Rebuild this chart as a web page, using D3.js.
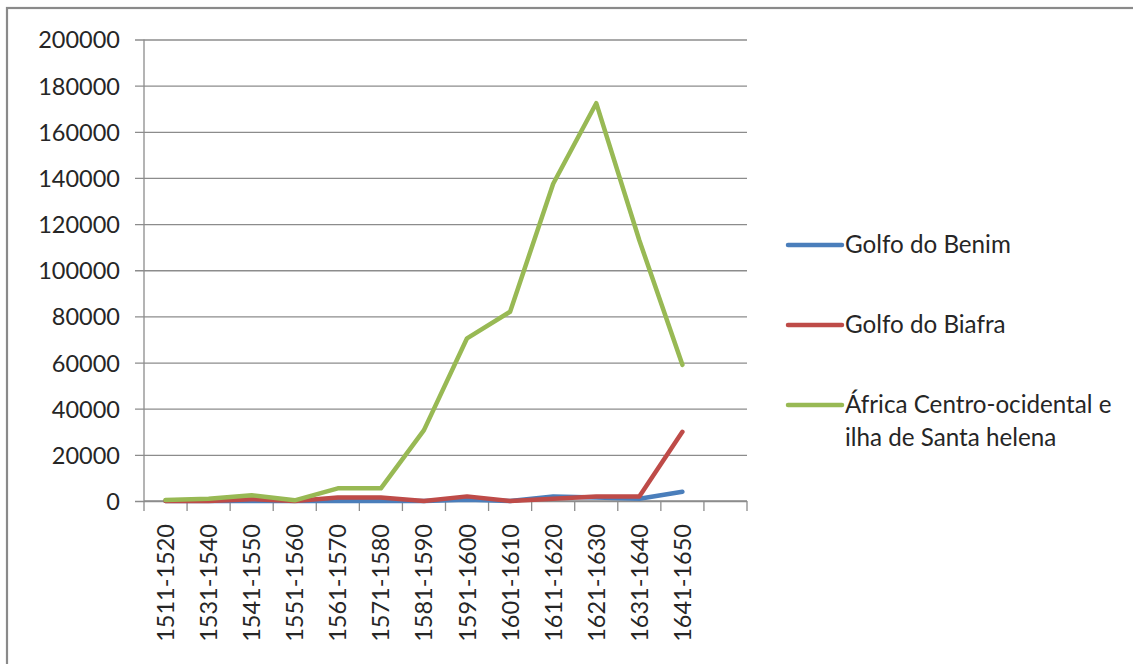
<!DOCTYPE html>
<html>
<head>
<meta charset="utf-8">
<script src="https://cdn.jsdelivr.net/npm/d3@7"></script>
<style>
  html, body { margin: 0; padding: 0; background: #fff; }
  svg { display: block; }
  text { font-family: Lato, "Open Sans", sans-serif; fill: #262626; }
</style>
</head>
<body>
<svg id="chart" width="1133" height="664"></svg>
<script>
// Periods (the last slot of the category axis is left empty)
const periods = ["1511-1520", "1531-1540", "1541-1550", "1551-1560", "1561-1570",
  "1571-1580", "1581-1590", "1591-1600", "1601-1610", "1611-1620",
  "1621-1630", "1631-1640", "1641-1650", ""];

const seriesNames = ["Golfo do Benim", "Golfo do Biafra", "África Centro-ocidental e ilha de Santa helena"];
const seriesColors = ["#4a7ebb", "#be4b48", "#98b954"];

const benim  = [0, 0, 0, 0, 0, 0, 0, 500, 0, 2000, 1500, 1000, 4000];
const biafra = [0, 0, 800, 0, 1500, 1500, 0, 2000, 0, 1000, 2000, 2000, 30000];
const africa = [400, 1000, 2500, 300, 5500, 5500, 30700, 70500, 82000, 137500, 172400, 113000, 59000];

const yTicks = [0, 20000, 40000, 60000, 80000, 100000, 120000, 140000, 160000, 180000, 200000];

const svg = d3.select("#chart");

// outer frame of the chart object
svg.append("rect").attr("x", 7).attr("y", 8).attr("width", 1140).attr("height", 680)
  .attr("fill", "#fff").attr("stroke", "#8a8a8a").attr("stroke-width", 2.2);

const plotLeft = 144, plotRight = 747, plotTop = 39.5, plotBottom = 501;

const x = d3.scaleBand().domain(periods.map((p, i) => i)).range([plotLeft, plotRight]);
const y = d3.scaleLinear().domain([0, 200000]).range([plotBottom, plotTop]);

const gridColor = "#8c8c8c";

// horizontal gridlines with outward tick stubs
const yAxis = d3.axisLeft(y).tickValues(yTicks).tickFormat(d3.format("d"))
  .tickSize(-(plotRight - plotLeft)).tickPadding(16);
const gy = svg.append("g").attr("transform", `translate(${plotLeft},0)`).call(yAxis);
gy.select(".domain").remove();
gy.selectAll(".tick line").attr("stroke", gridColor).attr("stroke-width", 1.3)
  .attr("x1", -9);
gy.selectAll(".tick text").attr("font-size", "23.5px").attr("fill", "#262626")
  .attr("font-family", "Lato, 'Open Sans', sans-serif").attr("x", -24).attr("dy", "0.36em");

// vertical value axis line
svg.append("line").attr("x1", plotLeft).attr("x2", plotLeft).attr("y1", plotTop).attr("y2", plotBottom)
  .attr("stroke", gridColor).attr("stroke-width", 1.3);

// category axis: boundary ticks between slots
const bounds = d3.range(periods.length + 1).map(i => plotLeft + i * x.step());
const gx = svg.append("g");
gx.append("line").attr("x1", plotLeft).attr("x2", plotRight).attr("y1", plotBottom).attr("y2", plotBottom)
  .attr("stroke", gridColor).attr("stroke-width", 1.3);
gx.selectAll("line.tk").data(bounds).join("line").attr("class", "tk")
  .attr("x1", d => d).attr("x2", d => d).attr("y1", plotBottom).attr("y2", plotBottom + 10)
  .attr("stroke", gridColor).attr("stroke-width", 1.3);
gx.selectAll("text").data(periods).join("text")
  .attr("transform", (d, i) => `translate(${x(i) + x.bandwidth() / 2 + 8.5},${plotBottom + 23}) rotate(-90)`)
  .attr("text-anchor", "end")
  .attr("font-size", "23.5px")
  .text(d => d);

// series lines
const line = d3.line().x((d, i) => x(i) + x.bandwidth() / 2).y(d => y(d));
[benim, biafra, africa].forEach((vals, k) => {
  svg.append("path").datum(vals).attr("d", line)
    .attr("fill", "none").attr("stroke", seriesColors[k])
    .attr("stroke-width", 4.5).attr("stroke-linejoin", "round").attr("stroke-linecap", "round");
});

// legend
const legendRows = [
  { y: 245, lines: ["Golfo do Benim"] },
  { y: 325, lines: ["Golfo do Biafra"] },
  { y: 405, lines: ["África Centro-ocidental e", "ilha de Santa helena"] }
];
const lg = svg.append("g");
legendRows.forEach((row, k) => {
  lg.append("line").attr("x1", 788).attr("x2", 842).attr("y1", row.y).attr("y2", row.y)
    .attr("stroke", seriesColors[k]).attr("stroke-width", 4.5).attr("stroke-linecap", "round");
  const t = lg.append("text").attr("x", 845).attr("y", row.y + 8).attr("font-size", "24.2px");
  row.lines.forEach((s, j) => {
    t.append("tspan").attr("x", 845).attr("dy", j === 0 ? 0 : 33).text(s);
  });
});
</script>
</body>
</html>
